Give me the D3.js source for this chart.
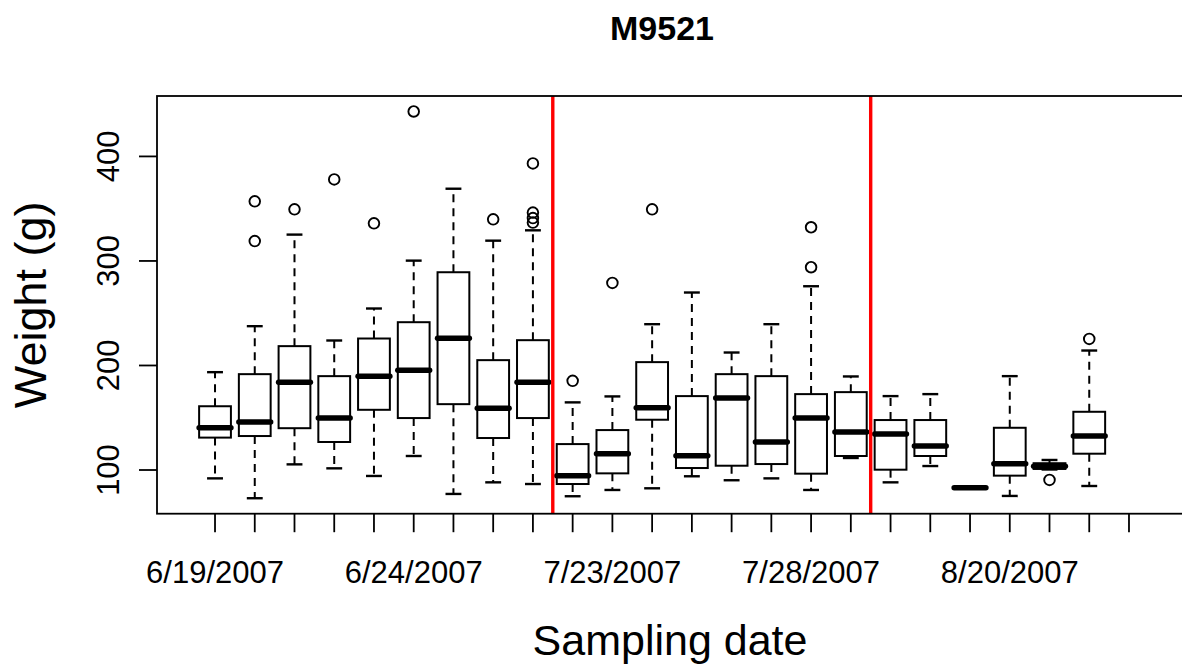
<html>
<head>
<meta http-equiv="Content-Type" content="text/html; charset=utf-8">
<title>M9521</title>
<script src="https://d3js.org/d3.v7.min.js"></script>
<style>
body, html{
  margin: 0;
  padding: 0;
  background: white;
  overflow: hidden;
}
text{
  font-family: "Liberation Sans", Arial, sans-serif;
  fill: black;
}
</style>
</head>
<body>
<div id='chart'></div>
<script type="text/javascript">

// sampling groups 1..24, only every fifth date gets a label (as R drops the rest)
var nGroups = 24
var labelPos = [1, 6, 11, 16, 21]
var dateLabels = ["6/19/2007", "6/24/2007", "7/23/2007", "7/28/2007", "8/20/2007"]

// five-number summaries, one entry per group (group 24 is empty)
var whiskerLow  = [92, 73, 105.4, 101.6, 94.3, 113.4, 77.1, 88.2, 86.6, 74.9, 80.9, 82.5, 94, 90.2, 92, 80.9, 111.5, 88.2, 103.8, 83.1, 75.2, 100.5, 84.7, null]
var q1          = [131, 132.5, 140, 126.8, 157.6, 149.7, 163, 130.6, 149.7, 86.6, 96.8, 148.1, 101.9, 104.1, 105.7, 96.5, 113.4, 100.3, 113.4, 83.1, 94.6, 101, 115.6, null]
var median      = [140.5, 146, 184, 149.7, 189.8, 195.5, 226.1, 159.2, 184, 94.6, 115.6, 159.5, 113.7, 168.8, 126.8, 149.7, 136.3, 134.4, 122.9, 83.1, 106, 103.5, 132.5, null]
var q3          = [161, 191.7, 218.5, 189.8, 225.8, 241.4, 289.2, 205.1, 224.2, 124.8, 138.2, 203.2, 170.7, 191.7, 189.8, 172.6, 174.5, 147.8, 147.8, 83.1, 140.4, 106.5, 155.7, null]
var whiskerHigh = [193.6, 237.6, 325.2, 223.9, 254.5, 300.3, 369.1, 319.4, 329.3, 164.7, 170.4, 239.5, 269.8, 212.4, 239.5, 275.8, 189.5, 170.7, 172.6, 83.1, 189.8, 109.6, 214.3, null]
var outliers = [
  [], [357, 319], [349.4], [378], [336], [443], [], [339.8],
  [393.3, 346.3, 341, 336.7],
  [185.3], [279], [349.4], [], [], [], [332.2, 294], [],
  [], [], [], [], [90.5], [225.4], []
]

// red separators between sampling periods
var breaks = [9.5, 17.5]

var yTicks = [100, 200, 300, 400]

var W = 1182, H = 668
var plot = {left: 157, right: 1187, top: 96, bottom: 513.7}

var svg = d3.select("#chart").append("svg")
  .attr("width", W)
  .attr("height", H)

// R style limits: 4% padding around the data range
var x = d3.scaleLinear()
  .domain([0.5 - 0.04 * nGroups, nGroups + 0.5 + 0.04 * nGroups])
  .range([plot.left, plot.right])

var allVals = whiskerLow.concat(whiskerHigh, d3.merge(outliers)).filter(function(d){ return d != null })
var lo = d3.min(allVals), hi = d3.max(allVals)
var pad = (hi - lo) * 0.04
var y = d3.scaleLinear()
  .domain([lo - pad, hi + pad])
  .range([plot.bottom, plot.top])

var step = x(2) - x(1)
var boxW = step * 0.8
var capW = boxW / 2
var lw = 2

var groups = d3.range(nGroups).map(function(i){
  return {pos: i + 1, lo: whiskerLow[i], q1: q1[i], med: median[i], q3: q3[i], hi: whiskerHigh[i], out: outliers[i]}
}).filter(function(d){ return d.med != null })

var g = svg.append("g")

// whiskers (dashed)
g.selectAll(".whisk-up").data(groups.filter(function(d){ return d.hi > d.q3 }))
  .enter().append("line")
  .attr("x1", function(d){ return x(d.pos) }).attr("x2", function(d){ return x(d.pos) })
  .attr("y1", function(d){ return y(d.q3) }).attr("y2", function(d){ return y(d.hi) })
  .style("stroke", "black").style("stroke-width", lw).style("stroke-dasharray", "8,6")

g.selectAll(".whisk-lo").data(groups.filter(function(d){ return d.lo < d.q1 }))
  .enter().append("line")
  .attr("x1", function(d){ return x(d.pos) }).attr("x2", function(d){ return x(d.pos) })
  .attr("y1", function(d){ return y(d.q1) }).attr("y2", function(d){ return y(d.lo) })
  .style("stroke", "black").style("stroke-width", lw).style("stroke-dasharray", "8,6")

// staples
groups.forEach(function(d){
  if (d.hi === d.med && d.lo === d.med) return
  ;[d.lo, d.hi].forEach(function(v){
    g.append("line")
      .attr("x1", x(d.pos) - capW / 2).attr("x2", x(d.pos) + capW / 2)
      .attr("y1", y(v)).attr("y2", y(v))
      .style("stroke", "black").style("stroke-width", 2.4)
  })
})

// boxes
g.selectAll(".box").data(groups.filter(function(d){ return d.q3 > d.q1 }))
  .enter().append("rect")
  .attr("x", function(d){ return x(d.pos) - boxW / 2 })
  .attr("width", boxW)
  .attr("y", function(d){ return y(d.q3) })
  .attr("height", function(d){ return y(d.q1) - y(d.q3) })
  .style("fill", "white").style("stroke", "black").style("stroke-width", lw)

// medians
g.selectAll(".med").data(groups)
  .enter().append("line")
  .attr("x1", function(d){ return x(d.pos) - boxW / 2 }).attr("x2", function(d){ return x(d.pos) + boxW / 2 })
  .attr("y1", function(d){ return y(d.med) }).attr("y2", function(d){ return y(d.med) })
  .style("stroke", "black").style("stroke-width", 5.5).style("stroke-linecap", "round")

// outliers
groups.forEach(function(d){
  d.out.forEach(function(v){
    g.append("circle")
      .attr("cx", x(d.pos)).attr("cy", y(v)).attr("r", 5.3)
      .style("fill", "none").style("stroke", "black").style("stroke-width", 1.9)
  })
})

// red period separators
svg.selectAll(".sep").data(breaks)
  .enter().append("line")
  .attr("x1", function(d){ return x(d) }).attr("x2", function(d){ return x(d) })
  .attr("y1", plot.top).attr("y2", plot.bottom)
  .style("stroke", "#ff0000").style("stroke-width", 3.4)

// frame
svg.append("rect")
  .attr("x", plot.left).attr("y", plot.top)
  .attr("width", plot.right - plot.left).attr("height", plot.bottom - plot.top)
  .style("fill", "none").style("stroke", "black").style("stroke-width", 1.8)

// y axis
svg.selectAll(".ytick").data(yTicks)
  .enter().append("line")
  .attr("x1", plot.left - 18).attr("x2", plot.left)
  .attr("y1", function(d){ return y(d) }).attr("y2", function(d){ return y(d) })
  .style("stroke", "black").style("stroke-width", 1.8)

svg.selectAll(".ylab").data(yTicks)
  .enter().append("text")
  .attr("transform", function(d){ return "translate(119," + y(d) + ") rotate(-90)" })
  .attr("text-anchor", "middle")
  .style("font-size", "31px")
  .text(function(d){ return d })

// x axis
svg.selectAll(".xtick").data(d3.range(1, nGroups + 1))
  .enter().append("line")
  .attr("x1", function(d){ return x(d) }).attr("x2", function(d){ return x(d) })
  .attr("y1", plot.bottom).attr("y2", plot.bottom + 18.5)
  .style("stroke", "black").style("stroke-width", 1.8)

svg.selectAll(".xlab").data(labelPos)
  .enter().append("text")
  .attr("x", function(d){ return x(d) })
  .attr("y", 583)
  .attr("text-anchor", "middle")
  .style("font-size", "31px")
  .text(function(d, i){ return dateLabels[i] })

// titles
svg.append("text")
  .attr("x", 662).attr("y", 40)
  .attr("text-anchor", "middle")
  .style("font-size", "34px").style("font-weight", "bold")
  .text("M9521")

svg.append("text")
  .attr("x", (plot.left + plot.right) / 2 - 2).attr("y", 655)
  .attr("text-anchor", "middle")
  .style("font-size", "43px")
  .text("Sampling date")

svg.append("text")
  .attr("transform", "translate(46," + (plot.top + plot.bottom) / 2 + ") rotate(-90)")
  .attr("text-anchor", "middle")
  .style("font-size", "45px")
  .text("Weight (g)")

</script>
</body>
</html>
